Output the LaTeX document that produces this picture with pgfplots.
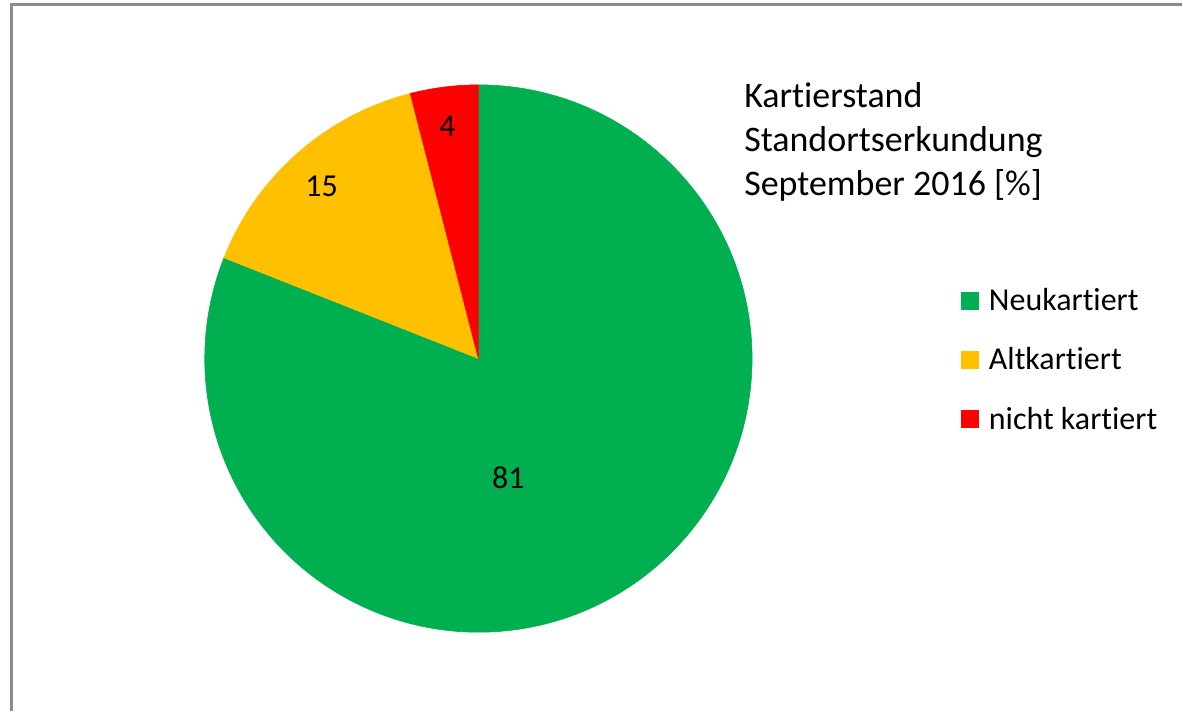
\documentclass[border=0pt]{standalone}
\usepackage{fontspec}
\setmainfont[Ligatures=NoCommon]{Carlito}
\usepackage{pgfplots}
\usepackage{pgfplotstable}
\pgfplotsset{compat=1.18}

\definecolor{neu}{HTML}{00B050}
\definecolor{alt}{HTML}{FFC000}
\definecolor{nicht}{HTML}{FF0000}
\definecolor{rahmen}{HTML}{8C8C8C}

\pgfplotstableread{
name value
Neukartiert 81
Altkartiert 15
nichtkartiert 4
}\piedata

\begin{document}
\begin{tikzpicture}
\pgfplotstablegetelem{0}{value}\of\piedata \edef\vA{\pgfplotsretval}
\pgfplotstablegetelem{1}{value}\of\piedata \edef\vB{\pgfplotsretval}
\pgfplotstablegetelem{2}{value}\of\piedata \edef\vC{\pgfplotsretval}
% slices run clockwise from 12 o'clock
\pgfmathsetmacro{\aA}{90-3.6*\vA}
\pgfmathsetmacro{\aB}{\aA-3.6*\vB}
\pgfmathsetmacro{\aC}{\aB-3.6*\vC}
\begin{axis}[
    x=1pt, y=1pt,
    xmin=0, xmax=1183,
    ymin=0, ymax=712,
    hide axis,
    clip=false,
    ]
\path (axis cs:0,0) rectangle (axis cs:1183,712);
\draw[rahmen, line width=3pt] (axis cs:11.5,0) -- (axis cs:11.5,707.5) -- (axis cs:1183,707.5);

\filldraw[neu, line width=0.6pt] (axis cs:479,353) -- +(90:274pt) arc[start angle=90, end angle=\aA, radius=274pt] -- cycle;
\filldraw[alt, line width=0.6pt] (axis cs:479,353) -- +(\aA:274pt) arc[start angle=\aA, end angle=\aB, radius=274pt] -- cycle;
\filldraw[nicht, line width=0.6pt] (axis cs:479,353) -- +(\aB:274pt) arc[start angle=\aB, end angle=\aC, radius=274pt] -- cycle;

\node[font=\fontsize{32}{38}\selectfont] at (axis cs:509,234) {\vA};
\node[font=\fontsize{32}{38}\selectfont] at (axis cs:322,525) {\vB};
\node[font=\fontsize{32}{38}\selectfont] at (axis cs:448,586) {\vC};

\node[anchor=base west, inner sep=0, font=\fontsize{36}{44}\selectfont] at (axis cs:745,604) {Kartierstand};
\node[anchor=base west, inner sep=0, font=\fontsize{36}{44}\selectfont] at (axis cs:745,560) {Standortserkundung};
\node[anchor=base west, inner sep=0, font=\fontsize{36}{44}\selectfont] at (axis cs:745,516) {September 2016 [\%]};

\fill[neu] (axis cs:962,402) rectangle (axis cs:980,420);
\fill[alt] (axis cs:962,343) rectangle (axis cs:980,361);
\fill[nicht] (axis cs:962,283) rectangle (axis cs:980,301);
\node[anchor=base west, inner sep=0, font=\fontsize{32}{38}\selectfont] at (axis cs:990,401) {Neukartiert};
\node[anchor=base west, inner sep=0, font=\fontsize{32}{38}\selectfont] at (axis cs:990,342) {Altkartiert};
\node[anchor=base west, inner sep=0, font=\fontsize{32}{38}\selectfont] at (axis cs:990,282) {nicht kartiert};
\end{axis}
\end{tikzpicture}
\end{document}
